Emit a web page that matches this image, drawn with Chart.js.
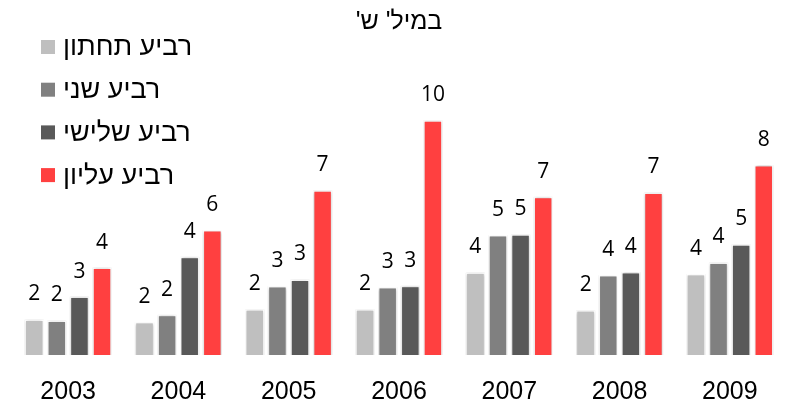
<!DOCTYPE html>
<html>
<head>
<meta charset="utf-8">
<script src="https://cdn.jsdelivr.net/npm/chart.js@4"></script>
<style>
  body { margin: 0; background: #fff; }
  #wrap { width: 786px; height: 401px; }
</style>
</head>
<body>
<div id="wrap"><canvas id="myChart" width="786" height="401"></canvas></div>
<script>
// data
const years = ['2003', '2004', '2005', '2006', '2007', '2008', '2009'];
const seriesNames = ['רביע תחתון', 'רביע שני', 'רביע שלישי', 'רביע עליון'];
const bottomQ = [1.83, 1.72, 2.25, 2.25, 3.76, 2.21, 3.69];
const secondQ = [1.79, 2.02, 3.20, 3.16, 5.29, 3.65, 4.17];
const thirdQ = [2.77, 4.40, 3.47, 3.21, 5.33, 3.78, 4.92];
const topQ = [3.96, 5.50, 7.13, 10.0, 6.87, 7.04, 8.17];
const titleText = "במיל' ש'";

const colors = ['#bfbfbf', '#808080', '#595959', '#ff4040'];
const FONT = "'Liberation Sans', Arial, sans-serif";

// title, legend and value labels
const extras = {
  id: 'extras',
  beforeDatasetsDraw(chart) {
    const ctx = chart.ctx;
    ctx.save();
    ctx.shadowColor = 'rgba(0,0,0,0.25)';
    ctx.shadowBlur = 3;
  },
  afterDatasetsDraw(chart) {
    const ctx = chart.ctx;
    ctx.restore();
    ctx.save();
    ctx.fillStyle = '#000';
    ctx.font = "21px 'Open Sans', sans-serif";
    ctx.textAlign = 'center';
    ctx.textBaseline = 'alphabetic';
    chart.data.datasets.forEach((ds, i) => {
      chart.getDatasetMeta(i).data.forEach((bar, j) => {
        ctx.fillText(String(Math.round(ds.data[j])), bar.x, bar.y - 19);
      });
    });
    ctx.restore();
  },
  afterDraw(chart) {
    const ctx = chart.ctx;
    ctx.save();
    ctx.direction = 'rtl';
    ctx.fillStyle = '#000';
    ctx.font = '25px ' + FONT;
    ctx.textAlign = 'center';
    ctx.textBaseline = 'middle';
    ctx.fillText(titleText, 399, 22);

    ctx.font = '27px ' + FONT;
    ctx.textAlign = 'left';
    chart.data.datasets.forEach((ds, i) => {
      const y = 47 + i * 42.7;
      ctx.fillStyle = ds.backgroundColor;
      ctx.fillRect(41, y - 7, 14, 14);
      ctx.fillStyle = '#000';
      ctx.fillText(ds.label, 63, y + 1);
    });
    ctx.restore();
  }
};

const data = {
  labels: years,
  datasets: [bottomQ, secondQ, thirdQ, topQ].map((vals, i) => ({
    label: seriesNames[i],
    data: vals,
    backgroundColor: colors[i],
    borderColor: '#ffffff',
    borderWidth: 1.5,
    borderSkipped: false,
    categoryPercentage: 0.82,
    barPercentage: 0.86
  }))
};

const config = {
  type: 'bar',
  data,
  options: {
    responsive: false,
    animation: false,
    layout: { padding: { left: 13, right: 1, top: 96, bottom: 0 } },
    plugins: {
      legend: { display: false },
      title: { display: false },
      tooltip: { enabled: false }
    },
    scales: {
      x: {
        grid: { display: false },
        border: { display: false },
        ticks: { color: '#000', font: { family: FONT, size: 25 }, padding: 14 },
        afterFit(scale) { scale.height = 46; }
      },
      y: {
        display: false,
        min: 0.37,
        max: 11
      }
    }
  },
  plugins: [extras]
};

const myChart = new Chart(document.getElementById('myChart'), config);
</script>
</body>
</html>
